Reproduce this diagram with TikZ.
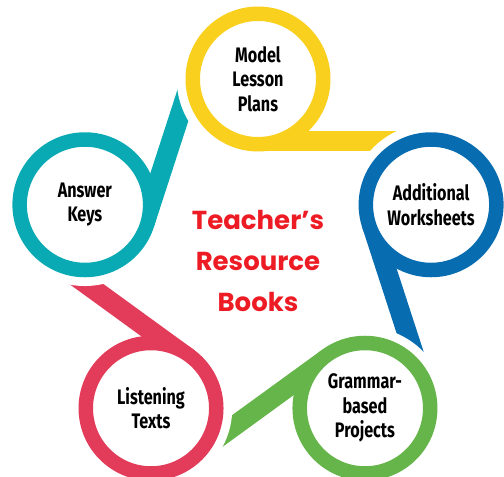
\documentclass[tikz,border=0pt]{standalone}
\usepackage{fontspec}
\usepackage{xcolor}
\usepackage{tikz}
\usetikzlibrary{calc}
\newfontfamily\labelfont{Fira Sans}[FakeStretch=0.77]
\newfontfamily\titlefont{Poppins}
\definecolor{sunny}{HTML}{FAD01E}
\definecolor{ocean}{HTML}{086CB0}
\definecolor{leaf}{HTML}{66B54A}
\definecolor{rose}{HTML}{E23C5A}
\definecolor{lagoon}{HTML}{0AAAB4}
\definecolor{titlered}{HTML}{ED1C24}
\tikzset{
    every picture/.style={line cap=round,line join=round},
    ringnode/.style={circle,draw=#1,fill=white,line width=14.5pt,
      minimum size=130.5pt,inner sep=0pt,align=center,text=black,
      font=\labelfont\bfseries\fontsize{21}{24.5}\selectfont},
    tailband/.style={fill=#1},
    halo/.style={draw=white,line width=9.5pt,line cap=butt},
    titletext/.style={align=center,text=titlered,inner sep=0pt,
      font=\titlefont\bfseries\fontsize{26}{41}\selectfont}
}

\begin{document}
\begin{tikzpicture}[x=1pt,y=1pt]
  \useasboundingbox (-258,-216) rectangle (246,261);
  % circle centres on a pentagon
  \coordinate (cplans) at (90:182);
  \coordinate (csheets) at (18:182);
  \coordinate (cprojects) at (-54:182);
  \coordinate (ctexts) at (-126:182);
  \coordinate (ckeys) at (162:182);
  % tails
  \fill[tailband=sunny,shift={(cplans)}] (0,-72.5) -- (180,-72.5) -- (180,-52.5) -- (0,-52.5) -- cycle;
  \fill[tailband=ocean,shift={(csheets)},rotate=-72] (0,-72.5) -- (180,-72.5) -- (180,-52.5) -- (0,-52.5) -- cycle;
  \fill[tailband=leaf,shift={(cprojects)},rotate=-144] (0,-72.5) -- (180,-72.5) -- (180,-52.5) -- (0,-52.5) -- cycle;
  \fill[tailband=rose,shift={(ctexts)},rotate=-216] (0,-72.5) -- (180,-72.5) -- (180,-52.5) -- (0,-52.5) -- cycle;
  \fill[tailband=lagoon,shift={(ckeys)},rotate=-288] (0,-72.5) -- (180,-72.5) -- (180,-52.5) -- (0,-52.5) -- cycle;
  % white gap where a tail meets the next ring
  \draw[halo,shift={(cplans)}] (120:76.5) arc[start angle=120,end angle=240,radius=76.5pt];
  \draw[halo,shift={(csheets)}] (48:76.5) arc[start angle=48,end angle=168,radius=76.5pt];
  \draw[halo,shift={(cprojects)}] (-24:76.5) arc[start angle=-24,end angle=96,radius=76.5pt];
  \draw[halo,shift={(ctexts)}] (-96:76.5) arc[start angle=-96,end angle=24,radius=76.5pt];
  \draw[halo,shift={(ckeys)}] (192:76.5) arc[start angle=192,end angle=312,radius=76.5pt];
  % rings
  \node[ringnode=sunny] (plans) at (cplans) {Model\\Lesson\\Plans};
  \node[ringnode=ocean] (sheets) at (csheets) {Additional\\Worksheets};
  \node[ringnode=leaf] (projects) at (cprojects) {Grammar-\\based\\Projects};
  \node[ringnode=rose] (texts) at (ctexts) {Listening\\Texts};
  \node[ringnode=lagoon] (keys) at (ckeys) {Answer\\Keys};
  \node[titletext] (title) at (0,0) {Teacher’s\\Resource\\Books};
\end{tikzpicture}
\end{document}
